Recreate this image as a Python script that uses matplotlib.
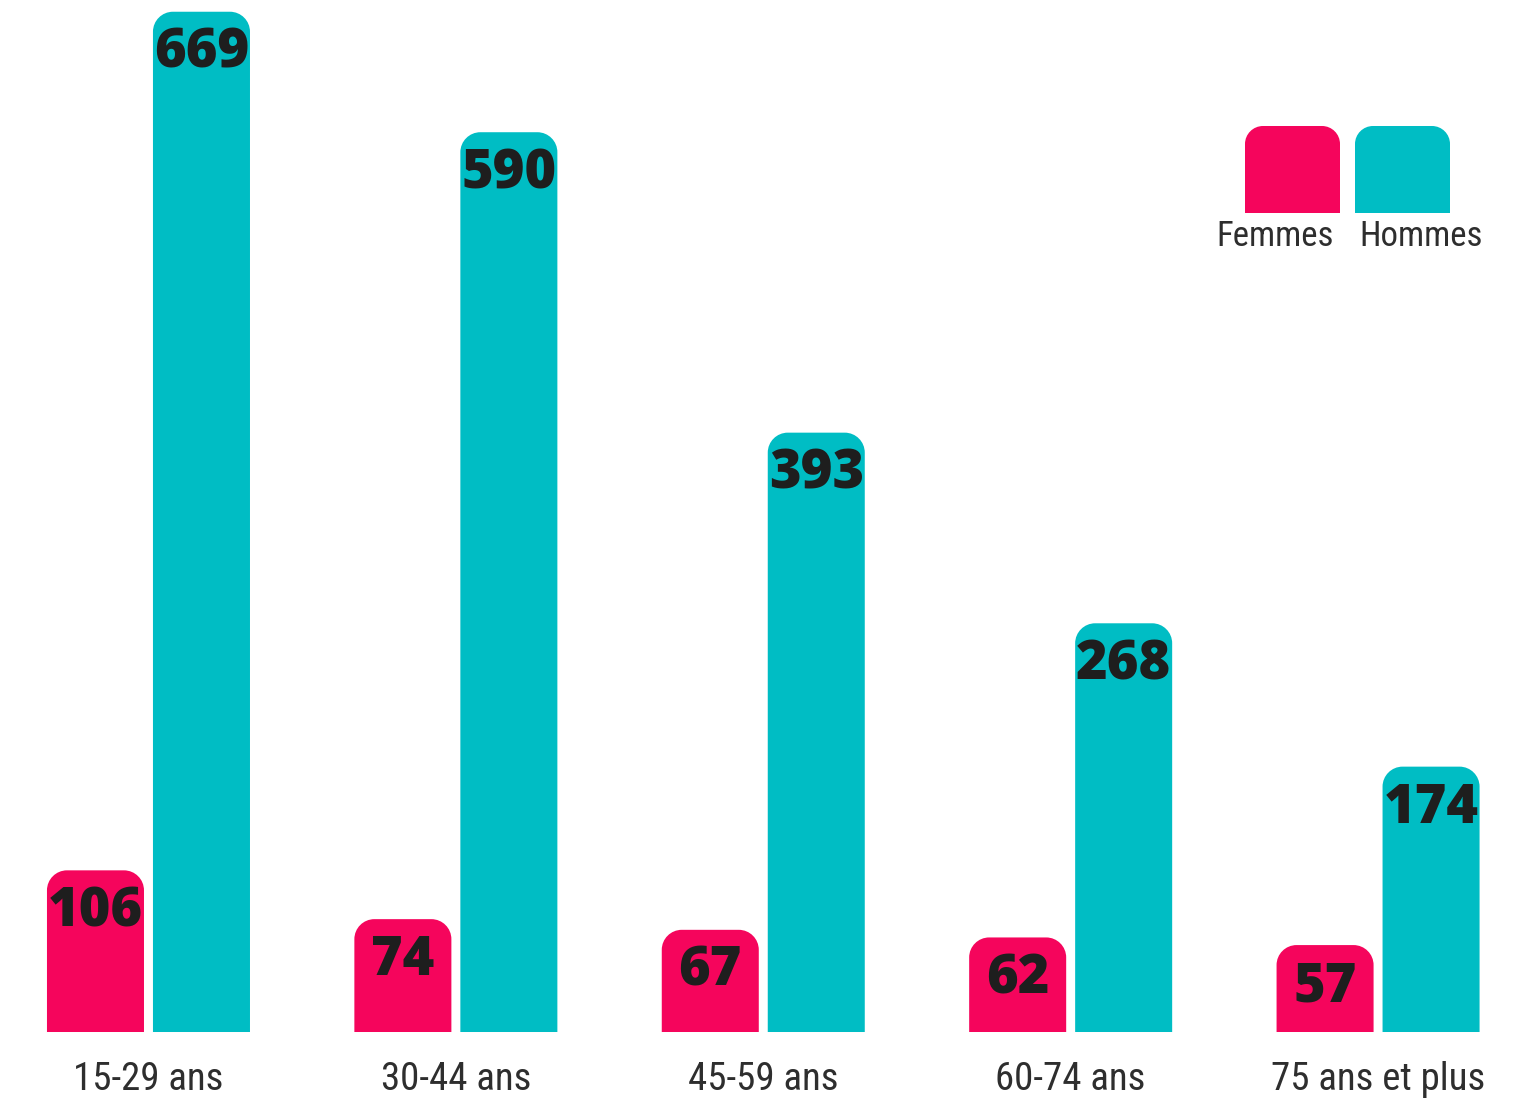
import matplotlib
matplotlib.use("Agg")
import matplotlib.pyplot as plt
import matplotlib.font_manager as fm
from matplotlib.path import Path
from matplotlib.patches import PathPatch

# data
categories = ["15-29 ans", "30-44 ans", "45-59 ans", "60-74 ans", "75 ans et plus"]
femmes = [106, 74, 67, 62, 57]
hommes = [669, 590, 393, 268, 174]
series_names = ["Femmes", "Hommes"]

PINK = "#F5055C"
TEAL = "#00BDC4"
DARK = "#1E1E1E"
GREY = "#2E2E2E"

# pick a narrow font for the category labels if one is installed
installed = {f.name for f in fm.fontManager.ttflist}
narrow = "DejaVu Sans"
for cand in ["Liberation Sans Narrow", "Roboto Condensed", "Open Sans Condensed", "Noto Sans"]:
    if cand in installed:
        narrow = cand
        break


def rounded_top(x0, w, h, rx, ry):
    """ path of a bar whose two top corners are rounded """
    k = 0.5523
    x1 = x0 + w
    verts = [
        (x0, 0), (x0, h - ry),
        (x0, h - ry + k * ry), (x0 + rx - k * rx, h), (x0 + rx, h),
        (x1 - rx, h),
        (x1 - rx + k * rx, h), (x1, h - ry + k * ry), (x1, h - ry),
        (x1, 0), (x0, 0),
    ]
    codes = [Path.MOVETO, Path.LINETO,
             Path.CURVE4, Path.CURVE4, Path.CURVE4,
             Path.LINETO,
             Path.CURVE4, Path.CURVE4, Path.CURVE4,
             Path.LINETO, Path.CLOSEPOLY]
    return Path(verts, codes)


fig = plt.figure(figsize=(15.25, 11.11), dpi=100)
ax = fig.add_axes([0, 0, 1, 1])
ax.set_xlim(-0.483, 4.478)
ax.set_ylim(-51.8, 676.7)
ax.axis("off")

# corner radius in pixels -> data units
r_px = 20
rx = r_px * (4.478 + 0.483) / 1525
ry = r_px * (676.7 + 51.8) / 1111

width = 0.3156
offset = 0.1724
x = list(range(len(categories)))

for vals, shift, color in [(femmes, -offset, PINK), (hommes, offset, TEAL)]:
    bars = ax.bar([i + shift for i in x], vals, width=width, color=color)
    for rect, v in zip(bars, vals):
        rect.set_visible(False)
        ax.add_patch(PathPatch(rounded_top(rect.get_x(), rect.get_width(), rect.get_height(), rx, ry),
                               facecolor=color, edgecolor="none"))
        ax.annotate(str(v), (rect.get_x() + rect.get_width() / 2, rect.get_height()),
                    xytext=(0, -30), textcoords="offset points", ha="center", va="center",
                    fontsize=39, fontweight="heavy", family="Open Sans", color=DARK)

# category labels under each group
for i, lab in zip(x, categories):
    ax.annotate(lab, (i, 0), xytext=(0, -34), textcoords="offset points",
                ha="center", va="center", fontsize=28, family=narrow, color=GREY)

# legend drawn by hand: two rounded swatches with text underneath
leg_x = [1245, 1355]
text_x = [1275, 1421]
for lx, tx, color, name in zip(leg_x, text_x, [PINK, TEAL], series_names):
    x0 = lx / 1525
    w = 95 / 1525
    h = 87 / 1111
    y0 = 1 - 213 / 1111
    path = rounded_top(0, w, h, 18 / 1525, 18 / 1111)
    verts = [(vx + x0, vy + y0) for vx, vy in path.vertices]
    fig.patches.append(PathPatch(Path(verts, path.codes), facecolor=color,
                                 edgecolor="none", transform=fig.transFigure))
    fig.text(tx / 1525, 1 - 237 / 1111, name, ha="center", va="center",
             fontsize=25, family=narrow, color=GREY)

fig.savefig("out.png", dpi=100, facecolor="white")
